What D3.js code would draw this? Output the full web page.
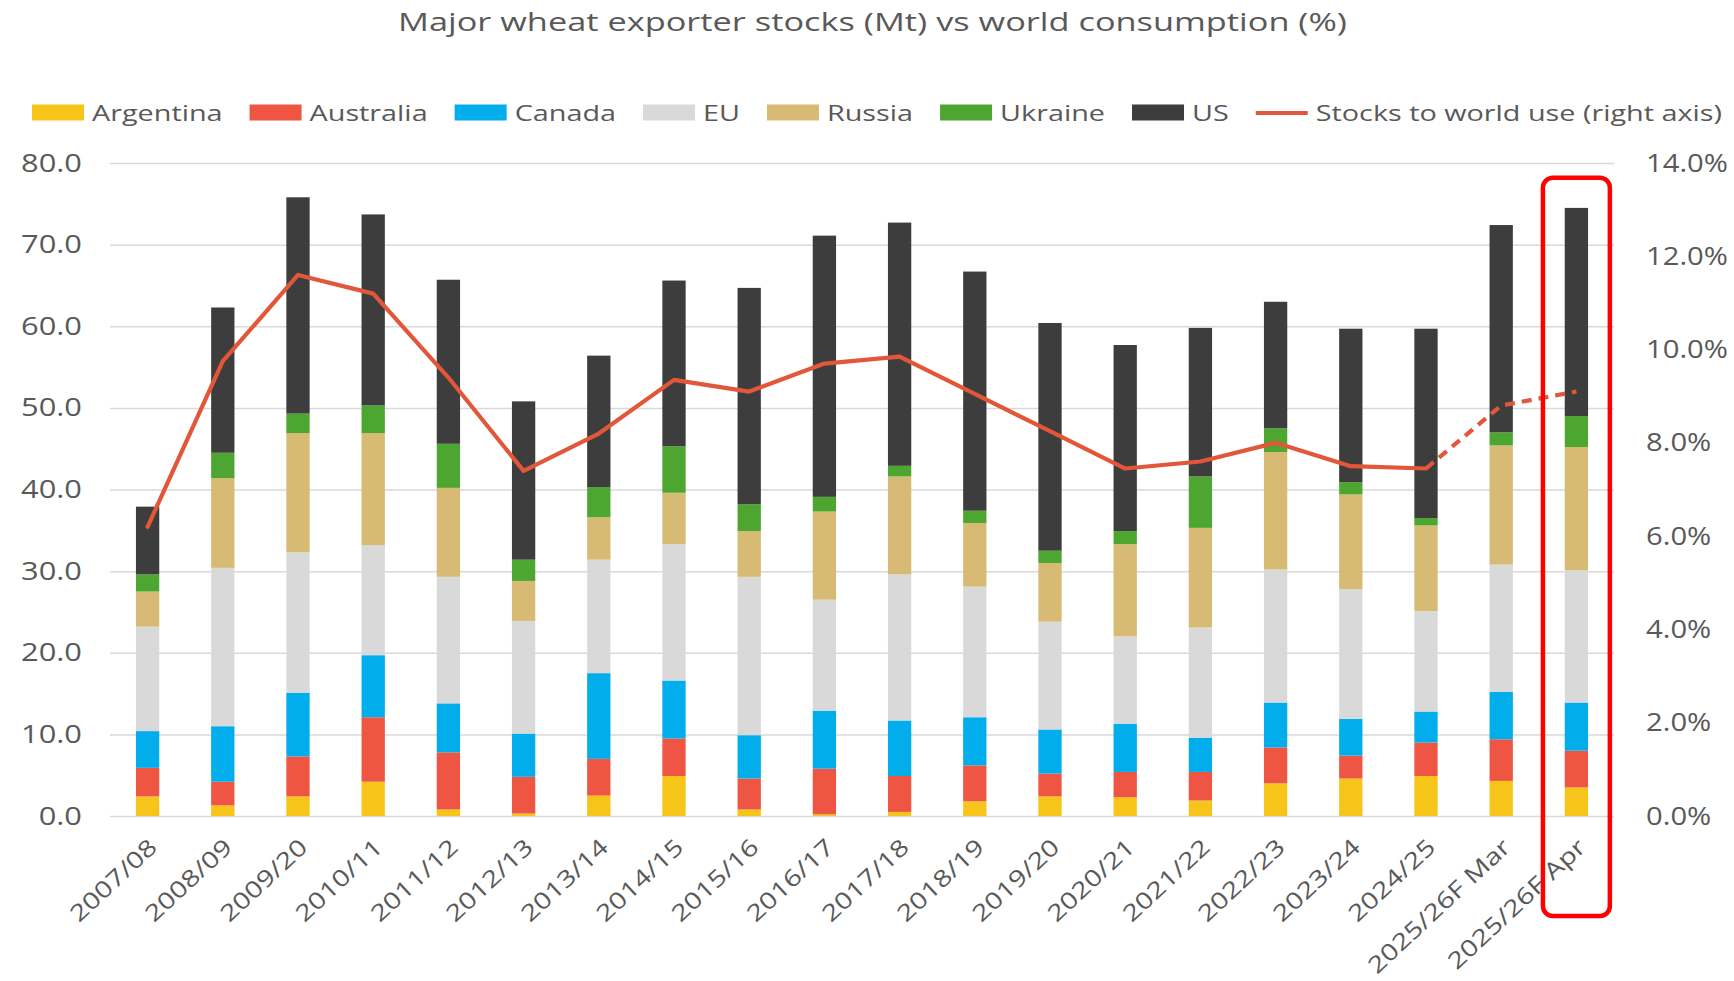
<!DOCTYPE html>
<html>
<head>
<meta charset="utf-8">
<script src="https://cdn.jsdelivr.net/npm/d3@7"></script>
<style>
  body { margin: 0; background: #ffffff; }
  svg { display: block; }
  text { font-family: "Open Sans", sans-serif; fill: #595959; }
</style>
</head>
<body>
<svg id="chart" width="1734" height="981"></svg>
<script>
// ---------------- DATA ----------------
const categories = ["2007/08","2008/09","2009/20","2010/11","2011/12","2012/13","2013/14","2014/15","2015/16","2016/17","2017/18","2018/19","2019/20","2020/21","2021/22","2022/23","2023/24","2024/25","2025/26F Mar","2025/26F Apr"];
const argentina = [2.4,1.3,2.4,4.2,0.8,0.3,2.5,4.9,0.8,0.2,0.5,1.8,2.4,2.3,1.9,4.0,4.6,4.9,4.3,3.5];
const australia = [3.5,2.9,4.9,7.9,7.0,4.5,4.5,4.6,3.8,5.6,4.4,4.4,2.8,3.1,3.5,4.4,2.8,4.1,5.1,4.5];
const canada    = [4.5,6.8,7.8,7.6,6.0,5.3,10.5,7.1,5.3,7.1,6.8,5.9,5.4,5.9,4.2,5.5,4.5,3.8,5.8,5.9];
const eu        = [12.8,19.4,17.2,13.5,15.5,13.8,13.9,16.7,19.4,13.6,17.9,16.0,13.2,10.7,13.5,16.3,15.9,12.3,15.6,16.2];
const russia    = [4.3,11.0,14.6,13.7,10.9,4.9,5.2,6.3,5.6,10.8,12.0,7.8,7.2,11.3,12.2,14.4,11.6,10.5,14.6,15.1];
const ukraine   = [2.1,3.1,2.4,3.4,5.4,2.6,3.7,5.7,3.3,1.8,1.3,1.5,1.5,1.6,6.3,2.9,1.5,0.9,1.6,3.8];
const us        = [8.3,17.8,26.5,23.4,20.1,19.4,16.1,20.3,26.5,32.0,29.8,29.3,27.9,22.8,18.2,15.5,18.8,23.2,25.4,25.5];
// stocks to world use, percent (right axis)
const stocksToUse = [6.2,9.75,11.6,11.2,9.4,7.4,8.2,9.35,9.1,9.7,9.85,9.05,8.25,7.45,7.6,8.0,7.5,7.45,8.8,9.1];
const forecastStartIndex = 17; // dashed from 2024/25 onward

const seriesNames  = ["Argentina","Australia","Canada","EU","Russia","Ukraine","US"];
const seriesColors = ["#F7C51A","#EE5543","#02ADEC","#D9D9D9","#D7BB74","#4CA62F","#3D3D3D"];
const lineName  = "Stocks to world use (right axis)";
const lineColor = "#E2573A";
const titleText = "Major wheat exporter stocks (Mt) vs world consumption (%)";
const leftTicks  = [0,10,20,30,40,50,60,70,80];
const rightTicks = [0,0.02,0.04,0.06,0.08,0.10,0.12,0.14];

// ---------------- SETUP ----------------
const svg = d3.select("#chart");
const plot = { left: 110, right: 1614, top: 163, bottom: 816 };

const seriesArrays = [argentina, australia, canada, eu, russia, ukraine, us];
const table = categories.map((c, i) => {
  const row = { cat: c, ratio: stocksToUse[i] };
  seriesNames.forEach((s, k) => row[s] = seriesArrays[k][i]);
  return row;
});

const x = d3.scaleBand().domain(categories).range([plot.left, plot.right])
  .paddingInner(0.69).paddingOuter(0.345);
const y  = d3.scaleLinear().domain([0, 80]).range([plot.bottom, plot.top]);
const y2 = d3.scaleLinear().domain([0, 0.14]).range([plot.bottom, plot.top]);
const color = d3.scaleOrdinal().domain(seriesNames).range(seriesColors);

function stretch(sel, sx) {
  sel.each(function () {
    const w = this.getComputedTextLength();
    this.setAttribute("textLength", w * sx);
    this.setAttribute("lengthAdjust", "spacingAndGlyphs");
  });
}

// ---------------- TITLE ----------------
const title = svg.append("text")
  .attr("x", 398).attr("y", 31)
  .attr("font-size", 25)
  .text(titleText);
{
  const w = title.node().getComputedTextLength();
  stretch(title, 949 / w);
}

// ---------------- GRID ----------------
const grid = svg.append("g")
  .attr("transform", `translate(${plot.left},0)`)
  .call(d3.axisLeft(y).tickValues(leftTicks).tickSize(-(plot.right - plot.left)).tickFormat(""));
grid.select(".domain").remove();
grid.selectAll("line").attr("stroke", "#D9D9D9").attr("stroke-width", 1.5);

// ---------------- LEFT AXIS LABELS ----------------
const gL = svg.append("g")
  .attr("transform", "translate(82,0)")
  .call(d3.axisLeft(y).tickValues(leftTicks).tickSize(0).tickPadding(0).tickFormat(d3.format(".1f")));
gL.select(".domain").remove();
gL.attr("font-family", "Open Sans").attr("font-size", 25);
gL.selectAll("text").attr("fill", "#595959").attr("dy", null).attr("y", 8).attr("x", 0);
{
  const wNat = d3.max(gL.selectAll("text").nodes(), n => n.textContent === "80.0" ? n.getComputedTextLength() : 0);
  stretch(gL.selectAll("text"), 61 / wNat);
}

// ---------------- RIGHT AXIS LABELS ----------------
const gR = svg.append("g")
  .attr("transform", "translate(1646,0)")
  .call(d3.axisRight(y2).tickValues(rightTicks).tickSize(0).tickPadding(0).tickFormat(d3.format(".1%")));
gR.select(".domain").remove();
gR.attr("font-family", "Open Sans").attr("font-size", 25);
gR.selectAll("text").attr("fill", "#595959").attr("dy", null).attr("y", 8).attr("x", 0);
{
  const wNat = d3.max(gR.selectAll("text").nodes(), n => n.textContent === "14.0%" ? n.getComputedTextLength() : 0);
  stretch(gR.selectAll("text"), 82 / wNat);
}

// ---------------- BARS ----------------
const stacked = d3.stack().keys(seriesNames)(table);
svg.append("g").selectAll("g")
  .data(stacked)
  .join("g")
  .attr("fill", d => color(d.key))
  .selectAll("rect")
  .data(d => d)
  .join("rect")
  .attr("x", d => x(d.data.cat))
  .attr("width", x.bandwidth())
  .attr("y", d => y(d[1]))
  .attr("height", d => Math.max(0, y(d[0]) - y(d[1])));

// ---------------- LINE ----------------
const line = d3.line()
  .x(d => x(d.cat) + x.bandwidth() / 2)
  .y(d => y2(d.ratio / 100));
svg.append("path")
  .datum(table.slice(0, forecastStartIndex + 1))
  .attr("d", line)
  .attr("fill", "none").attr("stroke", lineColor).attr("stroke-width", 4.2)
  .attr("stroke-linejoin", "round").attr("stroke-linecap", "round");
svg.append("path")
  .datum(table.slice(forecastStartIndex))
  .attr("d", line)
  .attr("fill", "none").attr("stroke", lineColor).attr("stroke-width", 4.2)
  .attr("stroke-dasharray", "10,7").attr("stroke-linejoin", "round");

// ---------------- X AXIS LABELS ----------------
const gX = svg.append("g")
  .attr("transform", `translate(0,${plot.bottom})`)
  .call(d3.axisBottom(x).tickSize(0).tickPadding(0));
gX.select(".domain").remove();
gX.attr("font-family", "Open Sans").attr("font-size", 23);
gX.selectAll("text")
  .attr("fill", "#595959")
  .attr("y", 0).attr("dy", null)
  .attr("text-anchor", "end")
  .attr("transform", "translate(11,33) rotate(-43)");
{
  const wNat = d3.max(gX.selectAll("text").nodes(), n => n.textContent === "2007/08" ? n.getComputedTextLength() : 0);
  stretch(gX.selectAll("text"), 109 / wNat);
}

// ---------------- HIGHLIGHT BOX ----------------
const lastCat = categories[categories.length - 1];
const boxCx = x(lastCat) + x.bandwidth() / 2;
svg.append("rect")
  .attr("x", boxCx - 0.445 * x.step())
  .attr("y", y(78.2))
  .attr("width", 0.89 * x.step())
  .attr("height", (plot.bottom + 100) - y(78.2))
  .attr("rx", 10).attr("ry", 10)
  .attr("fill", "none").attr("stroke", "#FF0000").attr("stroke-width", 4.5);

// ---------------- LEGEND ----------------
const legendItems = seriesNames.map(n => ({ name: n, type: "rect", color: color(n) }))
  .concat([{ name: lineName, type: "line", color: lineColor }]);
const legend = svg.append("g").attr("font-size", 22);
const swW = 52, swGap = 8, itemGap = 27, legendLeft = 32, legendRight = 1722, legBase = 121;
const texts = legendItems.map(it => legend.append("text").attr("y", legBase).text(it.name));
const natTotal = d3.sum(texts, t => t.node().getComputedTextLength());
const avail = (legendRight - legendLeft) - legendItems.length * (swW + swGap) - (legendItems.length - 1) * itemGap;
const lsx = avail / natTotal;
let cx = legendLeft;
legendItems.forEach((it, i) => {
  if (it.type === "rect") {
    legend.append("rect").attr("x", cx).attr("y", 104.5).attr("width", swW).attr("height", 16).attr("fill", it.color);
  } else {
    legend.append("line").attr("x1", cx).attr("x2", cx + swW).attr("y1", 113).attr("y2", 113)
      .attr("stroke", it.color).attr("stroke-width", 4.2);
  }
  const t = texts[i];
  const w = t.node().getComputedTextLength() * lsx;
  t.attr("x", cx + swW + swGap).attr("textLength", w).attr("lengthAdjust", "spacingAndGlyphs");
  cx += swW + swGap + w + itemGap;
});
</script>
</body>
</html>
